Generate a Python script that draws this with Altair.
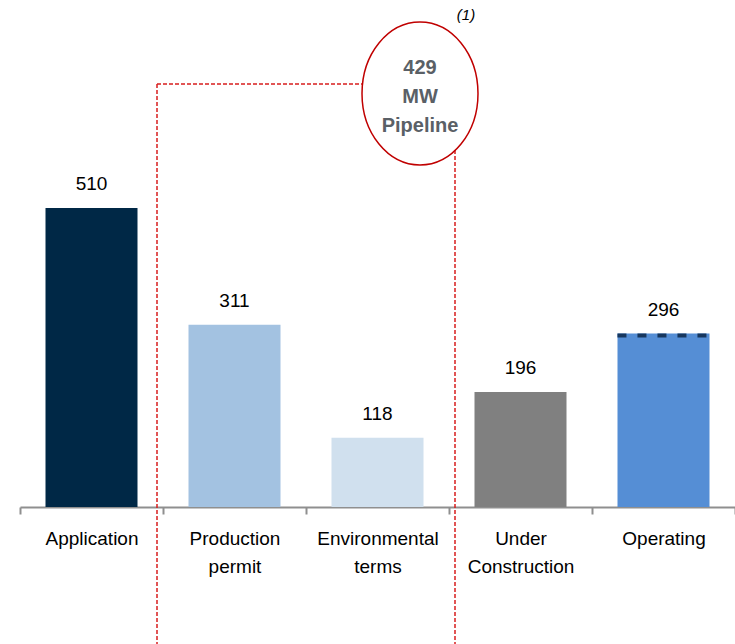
import altair as alt
import pandas as pd

categories = ["Application", "Production permit", "Environmental terms", "Under Construction", "Operating"]
values = [510, 311, 118, 196, 296]
colors = ["#002846", "#A3C2E1", "#D0E0EE", "#808080", "#558ED5"]
pipeline_text = ["429", "MW", "Pipeline"]
footnote = "(1)"

df = pd.DataFrame({"cat": categories, "value": values, "color": colors})

FONT = "Liberation Sans"
W, H = 715, 507

x_enc = alt.X("cat:N", sort=categories, title=None,
              scale=alt.Scale(paddingInner=0, paddingOuter=0),
              axis=alt.Axis(tickBand="extent", domainColor="#8f8f8f", tickColor="#8f8f8f",
                            domainWidth=2, tickWidth=2, tickSize=7, labelAngle=0,
                            labelFont=FONT, labelFontSize=19, labelColor="#000000",
                            labelPadding=15, labelLineHeight=28,
                            labelExpr="split(datum.label, ' ')"))
y_enc = alt.Y("value:Q", scale=alt.Scale(domain=[0, 865], nice=False), axis=None)

base = alt.Chart(df)

bars = base.mark_bar(size=92).encode(
    x=x_enc, y=y_enc, color=alt.Color("color:N", scale=None)
)

labels = base.mark_text(baseline="bottom", dy=-14, font=FONT, fontSize=19, color="#000000").encode(
    x=alt.X("cat:N", sort=categories), y="value:Q", text="value:Q"
)

op_dash = base.transform_filter(alt.datum.cat == "Operating").mark_rule(
    color="#17375E", strokeWidth=4, strokeDash=[9, 11], yOffset=2
).encode(
    x=alt.X("cat:N", sort=categories, bandPosition=0.178),
    x2=alt.X2("cat", bandPosition=0.822),
    y="value:Q"
)

red = "#D81E1E"
box_top = alt.Chart(pd.DataFrame({"a": [0]})).mark_rule(
    color=red, strokeDash=[4, 2], strokeWidth=1.5
).encode(x=alt.value(157 - 20), x2=alt.value(455 - 20), y=alt.value(84))
box_left = alt.Chart(pd.DataFrame({"a": [0]})).mark_rule(
    color=red, strokeDash=[4, 2], strokeWidth=1.5
).encode(x=alt.value(157 - 20), y=alt.value(84), y2=alt.value(660))
box_right = alt.Chart(pd.DataFrame({"a": [0]})).mark_rule(
    color=red, strokeDash=[4, 2], strokeWidth=1.5
).encode(x=alt.value(455 - 20), y=alt.value(84), y2=alt.value(660))

ellipse_path = "M -1 0 A 1 1.233 0 1 1 1 0 A 1 1.233 0 1 1 -1 0 Z"
ellipse = alt.Chart(pd.DataFrame({"a": [0]})).mark_point(
    shape=ellipse_path, size=116 * 116, filled=False, fill="#ffffff", fillOpacity=1,
    stroke="#C00000", strokeWidth=1.5, opacity=1
).encode(x=alt.value(420 - 20), y=alt.value(93.5))

ptxt = alt.Chart(pd.DataFrame({"t": ["\n".join(pipeline_text)]})).mark_text(
    font=FONT, fontSize=20, fontWeight="bold", color="#5A6066", lineBreak="\n",
    lineHeight=29, align="center", baseline="middle"
).encode(x=alt.value(420 - 20), y=alt.value(68), text="t:N")

fn = alt.Chart(pd.DataFrame({"t": [footnote]})).mark_text(
    font=FONT, fontSize=15, fontStyle="italic", color="#000000", align="center", baseline="middle"
).encode(x=alt.value(466 - 20), y=alt.value(15), text="t:N")

chart = alt.layer(box_top, box_left, box_right, bars, op_dash, labels, ellipse, ptxt, fn).properties(
    width=W, height=H,
    autosize=alt.AutoSizeParams(type="none"),
    padding={"left": 20, "top": 0, "right": 0, "bottom": 137},
    background="#ffffff"
).configure_view(stroke=None)

chart.save("out.html", embed_options={"renderer": "svg", "actions": False})
